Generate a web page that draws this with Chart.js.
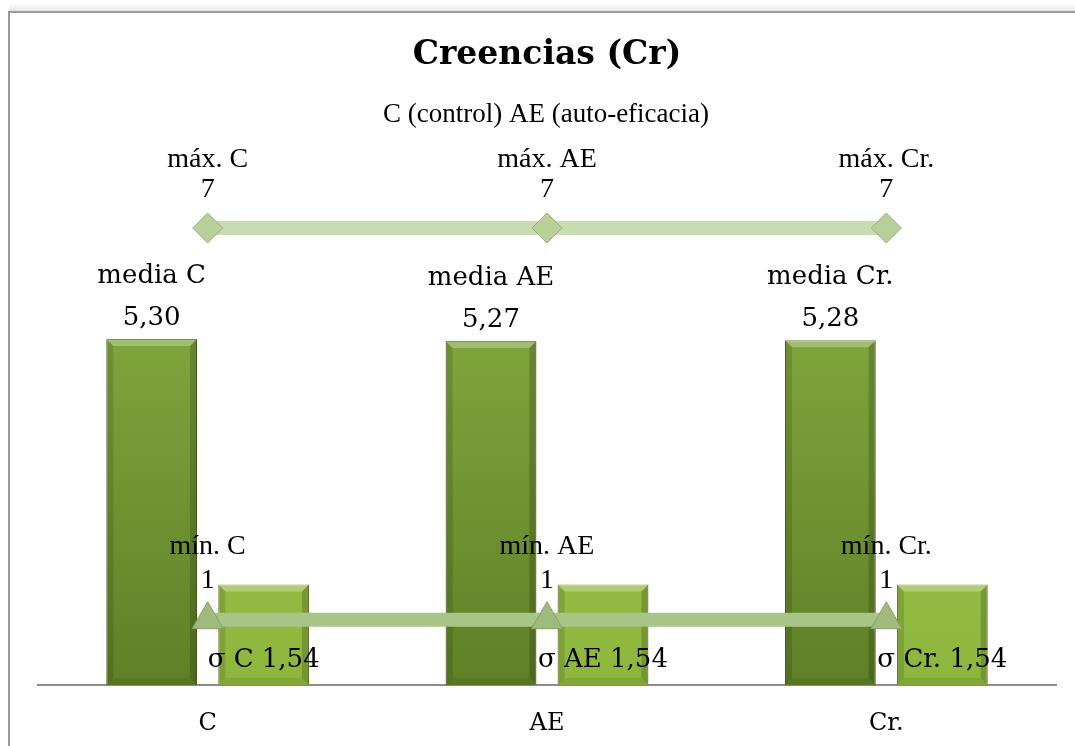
<!DOCTYPE html>
<html lang="es">
<head>
    <meta charset="UTF-8">
    <title>Creencias (Cr)</title>
    <script src="https://cdn.jsdelivr.net/npm/chart.js"></script>
    <style>
        html, body { margin: 0; padding: 0; background: #fff; }
        #wrap { width: 1075px; height: 746px; position: relative; }
    </style>
</head>
<body>
    <div id="wrap"><canvas id="chartCanvas"></canvas></div>

    <script>
        // data
        const categories = ['C', 'AE', 'Cr.'];
        const mediaValues = [5.30, 5.27, 5.28];
        const sigmaValues = [1.54, 1.54, 1.54];
        const maxValues = [7, 7, 7];
        const minValues = [1, 1, 1];

        const mediaNames = ['media C', 'media AE', 'media Cr.'];
        const sigmaNames = ['σ C', 'σ AE', 'σ Cr.'];
        const maxNames = ['máx. C', 'máx. AE', 'máx. Cr.'];
        const minNames = ['mín. C', 'mín. AE', 'mín. Cr.'];

        const titleText = 'Creencias (Cr)';
        const subtitleText = 'C (control) AE (auto-eficacia)';

        function fmt(v) {
            return v.toFixed(2).replace('.', ',');
        }

        function barGradient(ctx, top, bottom) {
            const chart = ctx.chart;
            const area = chart.chartArea;
            if (!area) return top;
            const g = chart.ctx.createLinearGradient(0, area.top + 100, 0, area.bottom);
            g.addColorStop(0, top);
            g.addColorStop(1, bottom);
            return g;
        }

        // frame, title and subtitle
        const framePlugin = {
            id: 'frame',
            beforeDraw(chart) {
                const c = chart.ctx;
                c.save();
                c.fillStyle = '#ffffff';
                c.fillRect(0, 0, chart.width, chart.height);
                const sh = c.createLinearGradient(0, 0, 0, 12);
                sh.addColorStop(0, 'rgba(255,255,255,0)');
                sh.addColorStop(1, 'rgba(200,200,200,0.6)');
                c.fillStyle = sh;
                c.fillRect(9, 0, chart.width, 11);
                c.strokeStyle = '#9a9a9a';
                c.lineWidth = 2;
                c.beginPath();
                c.moveTo(9, chart.height);
                c.lineTo(9, 12);
                c.lineTo(chart.width, 12);
                c.stroke();

                c.fillStyle = '#000';
                c.textAlign = 'center';
                c.textBaseline = 'middle';
                c.font = 'bold 33px "DejaVu Serif"';
                c.fillText(titleText, 547, 55);
                c.font = '27px "Liberation Serif"';
                c.fillText(subtitleText, 546, 115);
                c.restore();
            }
        };

        // bevel look on the bars (drawn right after each bar dataset)
        const bevelPlugin = {
            id: 'bevel',
            afterDatasetDraw(chart, args) {
                if (args.meta.type !== 'bar') return;
                const c = chart.ctx;
                c.save();
                args.meta.data.forEach(bar => {
                    const l = bar.x - bar.width / 2;
                    const r = bar.x + bar.width / 2;
                    const t = bar.y;
                    const b = bar.base;
                    const d = 7;
                    // top bevel, lighter
                    c.fillStyle = 'rgba(255,255,255,0.28)';
                    c.beginPath();
                    c.moveTo(l, t); c.lineTo(r, t); c.lineTo(r - d, t + d); c.lineTo(l + d, t + d);
                    c.closePath(); c.fill();
                    // side bevels, darker
                    c.fillStyle = 'rgba(0,0,0,0.12)';
                    c.beginPath();
                    c.moveTo(l, t); c.lineTo(l + d, t + d); c.lineTo(l + d, b - d); c.lineTo(l, b);
                    c.closePath(); c.fill();
                    c.fillStyle = 'rgba(0,0,0,0.18)';
                    c.beginPath();
                    c.moveTo(r, t); c.lineTo(r - d, t + d); c.lineTo(r - d, b - d); c.lineTo(r, b);
                    c.closePath(); c.fill();
                    c.fillStyle = 'rgba(0,0,0,0.08)';
                    c.beginPath();
                    c.moveTo(l, b); c.lineTo(l + d, b - d); c.lineTo(r - d, b - d); c.lineTo(r, b);
                    c.closePath(); c.fill();
                });
                c.restore();
            }
        };

        // value labels
        const labelPlugin = {
            id: 'valueLabels',
            afterDatasetsDraw(chart) {
                const c = chart.ctx;
                c.save();
                c.fillStyle = '#000';
                c.textAlign = 'center';
                c.textBaseline = 'middle';

                const media = chart.getDatasetMeta(2).data;
                const sigma = chart.getDatasetMeta(3).data;
                const maxs = chart.getDatasetMeta(0).data;
                const mins = chart.getDatasetMeta(1).data;
                const base = chart.scales.y.getPixelForValue(0);

                categories.forEach((cat, i) => {
                    c.font = '26px "DejaVu Serif"';
                    c.fillText(mediaNames[i], media[i].x, media[i].y - 63);
                    c.fillText(fmt(mediaValues[i]), media[i].x, media[i].y - 21);

                    c.fillText(sigmaNames[i] + ' ' + fmt(sigmaValues[i]), sigma[i].x, base - 25);

                    c.font = '28px "Liberation Serif"';
                    c.fillText(maxNames[i], maxs[i].x, maxs[i].y - 68);
                    c.fillText(String(maxValues[i]), maxs[i].x, maxs[i].y - 38);
                    c.fillText(minNames[i], mins[i].x, mins[i].y - 73);
                    c.fillText(String(minValues[i]), mins[i].x, mins[i].y - 39);
                });
                c.restore();
            }
        };

        const ctx = document.getElementById('chartCanvas').getContext('2d');
        const chart = new Chart(ctx, {
            data: {
                labels: categories,
                datasets: [
                    {
                        type: 'line',
                        label: 'máx.',
                        data: maxValues,
                        borderColor: '#c8dbb3',
                        borderWidth: 14,
                        pointStyle: 'rectRot',
                        pointRadius: 15,
                        pointBackgroundColor: '#b9cf99',
                        pointBorderColor: '#98b07a',
                        pointBorderWidth: 1,
                        clip: false,
                        order: 0
                    },
                    {
                        type: 'line',
                        label: 'mín.',
                        data: minValues,
                        borderColor: '#a9c487',
                        borderWidth: 14,
                        pointStyle: 'triangle',
                        pointRadius: 18,
                        pointBackgroundColor: '#a0ba7e',
                        pointBorderColor: '#86a066',
                        pointBorderWidth: 1,
                        clip: false,
                        order: 0
                    },
                    {
                        type: 'bar',
                        label: 'media',
                        data: mediaValues,
                        backgroundColor: (c) => barGradient(c, '#80a63d', '#5f8026'),
                        borderColor: '#4f6a1e',
                        borderWidth: 1,
                        categoryPercentage: 0.66,
                        barPercentage: 0.81,
                        order: 1
                    },
                    {
                        type: 'bar',
                        label: 'σ',
                        data: sigmaValues,
                        backgroundColor: (c) => barGradient(c, '#a3c84e', '#8db63c'),
                        borderColor: '#6f8f2c',
                        borderWidth: 1,
                        categoryPercentage: 0.66,
                        barPercentage: 0.81,
                        order: 1
                    }
                ]
            },
            options: {
                responsive: true,
                maintainAspectRatio: false,
                animation: false,
                layout: {
                    padding: { top: 228, left: 38, right: 19, bottom: 0 }
                },
                plugins: {
                    legend: { display: false },
                    tooltip: { enabled: false },
                    title: { display: false }
                },
                scales: {
                    x: {
                        grid: { display: false, drawTicks: false },
                        border: { display: true, color: '#8c8c8c', width: 2 },
                        ticks: {
                            color: '#000',
                            padding: 24,
                            font: { family: 'DejaVu Serif', size: 24 }
                        },
                        afterFit(scale) {
                            scale.height = 61;
                        }
                    },
                    y: {
                        display: false,
                        min: 0,
                        max: 7
                    }
                }
            },
            plugins: [framePlugin, bevelPlugin, labelPlugin]
        });
    </script>
</body>
</html>
